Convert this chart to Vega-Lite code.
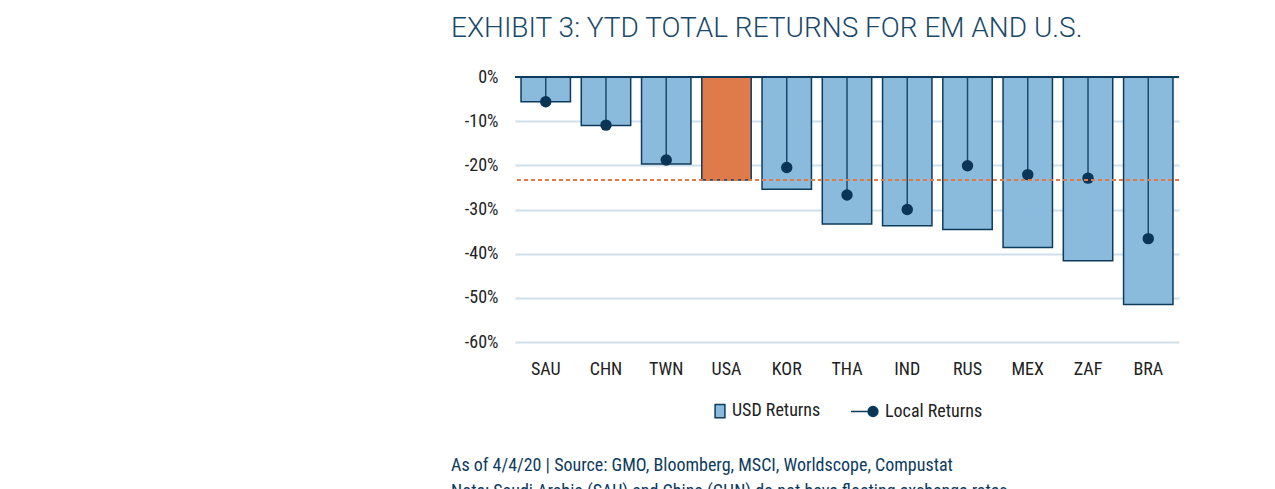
{
  "$schema": "https://vega.github.io/schema/vega-lite/v6.json",
  "padding": {"left": 451, "top": 15, "right": 5, "bottom": 5},
  "background": "white",
  "config": {
    "font": "Roboto Condensed, Liberation Sans Narrow, Roboto, sans-serif",
    "view": {"stroke": null},
    "legend": {"layout": {"bottom": {"anchor": "middle"}}}
  },
  "title": {
    "text": "EXHIBIT 3: YTD TOTAL RETURNS FOR EM AND U.S.",
    "anchor": "start",
    "font": "Roboto",
    "fontWeight": 300,
    "fontSize": 28,
    "color": "#1a4868",
    "offset": 25
  },
  "resolve": {"scale": {"fill": "independent"}, "legend": {"fill": "independent"}},
  "vconcat": [
    {
      "title": {
        "text": [
          "As of 4/4/20 | Source: GMO, Bloomberg, MSCI, Worldscope, Compustat",
          "Note: Saudi Arabia (SAU) and China (CHN) do not have floating exchange rates."
        ],
        "orient": "bottom",
        "anchor": "start",
        "fontSize": 18,
        "fontWeight": "normal",
        "color": "#0d3b5e",
        "lineHeight": 26,
        "offset": 36
      },
      "resolve": {"scale": {"fill": "independent"}, "legend": {"fill": "independent"}},
      "vconcat": [
        {
          "width": 664,
          "height": 265,
          "data": {
            "values": [
              {"country": "SAU", "usd": -5.6, "local": -5.6, "group": "USD Returns"},
              {"country": "CHN", "usd": -11.0, "local": -10.9, "group": "USD Returns"},
              {"country": "TWN", "usd": -19.7, "local": -18.8, "group": "USD Returns"},
              {"country": "USA", "usd": -23.3, "local": null, "group": "USA"},
              {"country": "KOR", "usd": -25.4, "local": -20.5, "group": "USD Returns"},
              {"country": "THA", "usd": -33.3, "local": -26.7, "group": "USD Returns"},
              {"country": "IND", "usd": -33.7, "local": -30.0, "group": "USD Returns"},
              {"country": "RUS", "usd": -34.5, "local": -20.1, "group": "USD Returns"},
              {"country": "MEX", "usd": -38.6, "local": -22.1, "group": "USD Returns"},
              {"country": "ZAF", "usd": -41.6, "local": -22.9, "group": "USD Returns"},
              {"country": "BRA", "usd": -51.5, "local": -36.6, "group": "USD Returns"}
            ]
          },
          "layer": [
            {
              "mark": {"type": "bar", "stroke": "#0d3b5e", "strokeWidth": 1.5},
              "encoding": {
                "x": {
                  "field": "country",
                  "type": "nominal",
                  "sort": null,
                  "scale": {"paddingInner": 0.18, "paddingOuter": 0.1},
                  "axis": {
                    "title": null,
                    "labelAngle": 0,
                    "domain": false,
                    "ticks": false,
                    "labelPadding": 18,
                    "labelFontSize": 18,
                    "labelColor": "#222222"
                  }
                },
                "y": {
                  "field": "usd",
                  "type": "quantitative",
                  "scale": {"domain": [-60, 0], "nice": false},
                  "axis": {
                    "title": null,
                    "values": [0, -10, -20, -30, -40, -50, -60],
                    "labelExpr": "datum.value + '%'",
                    "domain": false,
                    "ticks": false,
                    "labelPadding": 17,
                    "minExtent": 64,
                    "labelFontSize": 18,
                    "labelColor": "#222222",
                    "gridColor": "#cfe0ea",
                    "gridWidth": 2
                  }
                },
                "fill": {
                  "field": "group",
                  "type": "nominal",
                  "scale": {
                    "domain": ["USD Returns", "Local Returns", "USA"],
                    "range": ["#8bbbdc", "#0a3556", "#df7a4a"]
                  },
                  "legend": {
                    "title": null,
                    "orient": "bottom",
                    "direction": "horizontal",
                    "values": ["USD Returns", "Local Returns"],
                    "labelFontSize": 18,
                    "labelColor": "#222222",
                    "symbolSize": 150,
                    "symbolStrokeColor": "#0d3b5e",
                    "symbolStrokeWidth": 1.5,
                    "columnPadding": 26,
                    "labelOffset": 3,
                    "offset": 24,
                    "encode": {
                      "symbols": {
                        "update": {
                          "shape": {"signal": "datum.value === 'Local Returns' ? 'M-3.6,0L-0.8,0M0.8,0A0.8,0.8,0,1,1,-0.8,0A0.8,0.8,0,1,1,0.8,0Z' : 'M-0.8,-1.1L0.8,-1.1L0.8,1.1L-0.8,1.1Z'"},
                          "stroke": {"value": "#0d3b5e"}
                        }
                      }
                    }
                  }
                }
              }
            },
            {
              "transform": [{"filter": "datum.local != null"}],
              "mark": {"type": "rule", "color": "#1d4a6a", "strokeWidth": 1.5},
              "encoding": {
                "x": {"field": "country", "type": "nominal", "sort": null},
                "y": {"field": "local", "type": "quantitative"},
                "y2": {"datum": 0}
              }
            },
            {
              "transform": [{"filter": "datum.local != null"}],
              "mark": {"type": "point", "filled": true, "opacity": 1, "color": "#0a3556", "size": 130},
              "encoding": {
                "x": {"field": "country", "type": "nominal", "sort": null},
                "y": {"field": "local", "type": "quantitative"}
              }
            },
            {
              "mark": {"type": "rule", "color": "#e07b4a", "strokeWidth": 1.5, "strokeDash": [4, 3]},
              "encoding": {"y": {"datum": -23.3}}
            },
            {
              "mark": {"type": "rule", "color": "#0d3b5e", "strokeWidth": 2},
              "encoding": {"y": {"datum": 0}}
            }
          ]
        }
      ]
    }
  ]
}
